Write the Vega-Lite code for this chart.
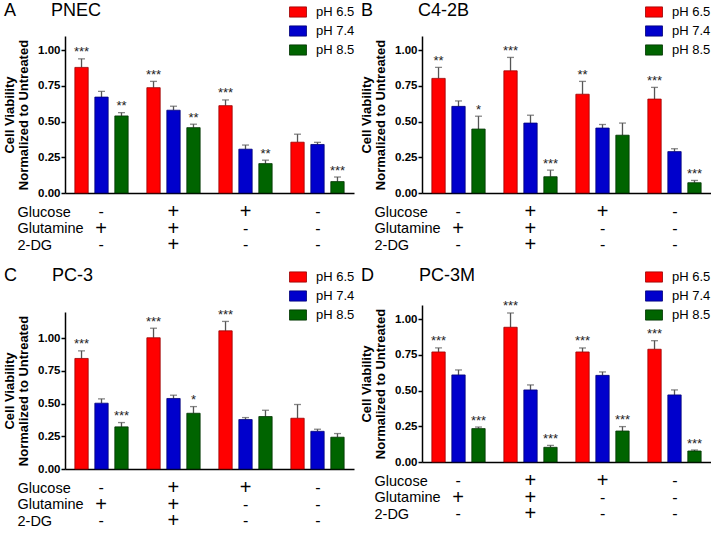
{
  "$schema": "https://vega.github.io/schema/vega-lite/v6.json",
  "padding": {"left": 3, "top": 2, "right": 0, "bottom": 0},
  "config": {
    "view": {"stroke": null},
    "font": "Liberation Sans",
    "legend": {"title": null, "symbolType": "M-1,-0.6L1,-0.6L1,0.6L-1,0.6Z", "symbolSize": 289, "symbolStrokeColor": "#333", "symbolStrokeWidth": 0.8, "symbolOpacity": 1, "labelFontSize": 13, "labelFont": "Liberation Sans", "labelColor": "black", "labelOffset": 9, "rowPadding": 3, "padding": 0},
    "title": {"anchor": "start", "frame": "group", "fontSize": 18, "fontWeight": "normal", "font": "Liberation Sans", "color": "black", "dx": -61, "dy": 21},
    "axisX": {"labels": false, "ticks": false, "title": null, "domainColor": "black", "domainWidth": 1.5, "grid": false}
  },
  "datasets": {
    "bars": [
      {"cell": "PNEC", "group": "g1", "ph": "pH 6.5", "value": 0.88, "err": 0.94, "stars": "***"},
      {"cell": "PNEC", "group": "g1", "ph": "pH 7.4", "value": 0.672, "err": 0.712, "stars": ""},
      {"cell": "PNEC", "group": "g1", "ph": "pH 8.5", "value": 0.54, "err": 0.563, "stars": "**"},
      {"cell": "PNEC", "group": "g2", "ph": "pH 6.5", "value": 0.738, "err": 0.782, "stars": "***"},
      {"cell": "PNEC", "group": "g2", "ph": "pH 7.4", "value": 0.58, "err": 0.608, "stars": ""},
      {"cell": "PNEC", "group": "g2", "ph": "pH 8.5", "value": 0.458, "err": 0.482, "stars": "**"},
      {"cell": "PNEC", "group": "g3", "ph": "pH 6.5", "value": 0.612, "err": 0.652, "stars": "***"},
      {"cell": "PNEC", "group": "g3", "ph": "pH 7.4", "value": 0.307, "err": 0.336, "stars": ""},
      {"cell": "PNEC", "group": "g3", "ph": "pH 8.5", "value": 0.206, "err": 0.23, "stars": "**"},
      {"cell": "PNEC", "group": "g4", "ph": "pH 6.5", "value": 0.356, "err": 0.412, "stars": ""},
      {"cell": "PNEC", "group": "g4", "ph": "pH 7.4", "value": 0.34, "err": 0.355, "stars": ""},
      {"cell": "PNEC", "group": "g4", "ph": "pH 8.5", "value": 0.08, "err": 0.112, "stars": "***"},
      {"cell": "C4-2B", "group": "g1", "ph": "pH 6.5", "value": 0.803, "err": 0.88, "stars": "**"},
      {"cell": "C4-2B", "group": "g1", "ph": "pH 7.4", "value": 0.607, "err": 0.645, "stars": ""},
      {"cell": "C4-2B", "group": "g1", "ph": "pH 8.5", "value": 0.448, "err": 0.538, "stars": "*"},
      {"cell": "C4-2B", "group": "g2", "ph": "pH 6.5", "value": 0.856, "err": 0.95, "stars": "***"},
      {"cell": "C4-2B", "group": "g2", "ph": "pH 7.4", "value": 0.49, "err": 0.545, "stars": ""},
      {"cell": "C4-2B", "group": "g2", "ph": "pH 8.5", "value": 0.114, "err": 0.16, "stars": "***"},
      {"cell": "C4-2B", "group": "g3", "ph": "pH 6.5", "value": 0.692, "err": 0.782, "stars": "**"},
      {"cell": "C4-2B", "group": "g3", "ph": "pH 7.4", "value": 0.455, "err": 0.48, "stars": ""},
      {"cell": "C4-2B", "group": "g3", "ph": "pH 8.5", "value": 0.405, "err": 0.49, "stars": ""},
      {"cell": "C4-2B", "group": "g4", "ph": "pH 6.5", "value": 0.658, "err": 0.74, "stars": "***"},
      {"cell": "C4-2B", "group": "g4", "ph": "pH 7.4", "value": 0.29, "err": 0.31, "stars": ""},
      {"cell": "C4-2B", "group": "g4", "ph": "pH 8.5", "value": 0.072, "err": 0.088, "stars": "***"},
      {"cell": "PC-3", "group": "g1", "ph": "pH 6.5", "value": 0.845, "err": 0.903, "stars": "***"},
      {"cell": "PC-3", "group": "g1", "ph": "pH 7.4", "value": 0.503, "err": 0.536, "stars": ""},
      {"cell": "PC-3", "group": "g1", "ph": "pH 8.5", "value": 0.322, "err": 0.355, "stars": "***"},
      {"cell": "PC-3", "group": "g2", "ph": "pH 6.5", "value": 1.003, "err": 1.076, "stars": "***"},
      {"cell": "PC-3", "group": "g2", "ph": "pH 7.4", "value": 0.539, "err": 0.564, "stars": ""},
      {"cell": "PC-3", "group": "g2", "ph": "pH 8.5", "value": 0.426, "err": 0.477, "stars": "*"},
      {"cell": "PC-3", "group": "g3", "ph": "pH 6.5", "value": 1.056, "err": 1.128, "stars": "***"},
      {"cell": "PC-3", "group": "g3", "ph": "pH 7.4", "value": 0.378, "err": 0.393, "stars": ""},
      {"cell": "PC-3", "group": "g3", "ph": "pH 8.5", "value": 0.401, "err": 0.449, "stars": ""},
      {"cell": "PC-3", "group": "g4", "ph": "pH 6.5", "value": 0.388, "err": 0.493, "stars": ""},
      {"cell": "PC-3", "group": "g4", "ph": "pH 7.4", "value": 0.288, "err": 0.304, "stars": ""},
      {"cell": "PC-3", "group": "g4", "ph": "pH 8.5", "value": 0.243, "err": 0.271, "stars": ""},
      {"cell": "PC-3M", "group": "g1", "ph": "pH 6.5", "value": 0.771, "err": 0.799, "stars": "***"},
      {"cell": "PC-3M", "group": "g1", "ph": "pH 7.4", "value": 0.61, "err": 0.645, "stars": ""},
      {"cell": "PC-3M", "group": "g1", "ph": "pH 8.5", "value": 0.234, "err": 0.245, "stars": "***"},
      {"cell": "PC-3M", "group": "g2", "ph": "pH 6.5", "value": 0.944, "err": 1.044, "stars": "***"},
      {"cell": "PC-3M", "group": "g2", "ph": "pH 7.4", "value": 0.505, "err": 0.54, "stars": ""},
      {"cell": "PC-3M", "group": "g2", "ph": "pH 8.5", "value": 0.103, "err": 0.117, "stars": "***"},
      {"cell": "PC-3M", "group": "g3", "ph": "pH 6.5", "value": 0.771, "err": 0.799, "stars": "***"},
      {"cell": "PC-3M", "group": "g3", "ph": "pH 7.4", "value": 0.607, "err": 0.631, "stars": ""},
      {"cell": "PC-3M", "group": "g3", "ph": "pH 8.5", "value": 0.217, "err": 0.248, "stars": "***"},
      {"cell": "PC-3M", "group": "g4", "ph": "pH 6.5", "value": 0.79, "err": 0.85, "stars": "***"},
      {"cell": "PC-3M", "group": "g4", "ph": "pH 7.4", "value": 0.47, "err": 0.505, "stars": ""},
      {"cell": "PC-3M", "group": "g4", "ph": "pH 8.5", "value": 0.077, "err": 0.084, "stars": "***"}
    ],
    "table": [
      {"group": "g1", "row": "Glucose", "sign": "-"},
      {"group": "g1", "row": "Glutamine", "sign": "+"},
      {"group": "g1", "row": "2-DG", "sign": "-"},
      {"group": "g2", "row": "Glucose", "sign": "+"},
      {"group": "g2", "row": "Glutamine", "sign": "+"},
      {"group": "g2", "row": "2-DG", "sign": "+"},
      {"group": "g3", "row": "Glucose", "sign": "+"},
      {"group": "g3", "row": "Glutamine", "sign": "-"},
      {"group": "g3", "row": "2-DG", "sign": "-"},
      {"group": "g4", "row": "Glucose", "sign": "-"},
      {"group": "g4", "row": "Glutamine", "sign": "-"},
      {"group": "g4", "row": "2-DG", "sign": "-"}
    ]
  },
  "resolve": {"scale": {"color": "independent", "stroke": "independent"}, "legend": {"color": "independent", "stroke": "independent"}},
  "spacing": 5,
  "hconcat": [
    {
      "resolve": {"scale": {"color": "independent", "stroke": "independent"}, "legend": {"color": "independent", "stroke": "independent"}},
      "spacing": 11,
      "vconcat": [
        {
          "resolve": {"scale": {"color": "independent", "stroke": "independent"}, "legend": {"color": "independent", "stroke": "independent"}},
          "spacing": 3,
          "vconcat": [
            {
              "width": 289, "height": 157,
              "data": {"name": "bars"},
              "transform": [{"filter": "datum.cell == 'PNEC'"}],
              "title": {"text": "A\u00a0\u00a0\u00a0\u00a0\u00a0\u00a0\u00a0PNEC"},
              "encoding": {
                "x": {"field": "group", "type": "nominal", "scale": {"paddingInner": 0.26, "paddingOuter": 0.137}},
                "xOffset": {"field": "ph", "type": "nominal", "scale": {"paddingInner": 0.333, "paddingOuter": 0}}
              },
              "layer": [
                {"mark": {"type": "rule", "color": "#555", "strokeWidth": 1.3}, "encoding": {"y": {"field": "value", "type": "quantitative", "scale": {"domain": [0, 1.1]}, "axis": {"values": [0, 0.25, 0.5, 0.75, 1], "tickCount": 12, "format": ".2f", "labelFont": "Liberation Sans", "labelFontWeight": "bold", "labelFontSize": 11.5, "labelColor": "black", "labelPadding": 1, "tickColor": "black", "tickSize": 4, "tickWidth": 1.5, "domainColor": "black", "domainWidth": 1.5, "grid": false, "titleFont": "Liberation Sans", "titleFontSize": 13, "titleFontWeight": "bold", "titleColor": "black", "titlePadding": 7, "titleLineHeight": 14, "title": ["Cell Viability", "Normalized to Untreated"]}}, "y2": {"field": "err"}}},
                {"mark": {"type": "tick", "color": "#555", "thickness": 1.3, "size": 7, "orient": "horizontal"}, "encoding": {"y": {"field": "err", "type": "quantitative"}}},
                {"mark": {"type": "bar", "strokeWidth": 0.8}, "encoding": {"y": {"field": "value", "type": "quantitative"}, "color": {"field": "ph", "type": "nominal", "scale": {"domain": ["pH 6.5", "pH 7.4", "pH 8.5"], "range": ["#ff0000", "#0000cc", "#006400"]}, "legend": {"orient": "none", "legendX": 224, "legendY": -33}}, "stroke": {"field": "ph", "type": "nominal", "scale": {"domain": ["pH 6.5", "pH 7.4", "pH 8.5"], "range": ["#990000", "#000077", "#003300"]}, "legend": null}}},
                {"transform": [{"filter": "datum.stars != ''"}], "mark": {"type": "text", "fontSize": 13, "dy": -2.5, "baseline": "alphabetic", "color": "#222"}, "encoding": {"y": {"field": "err", "type": "quantitative"}, "text": {"field": "stars"}}}
              ]
            },
            {
              "width": 289, "height": 49.5,
              "data": {"name": "table"},
              "encoding": {
                "x": {"field": "group", "type": "nominal", "scale": {"paddingInner": 0.26, "paddingOuter": 0.137}, "axis": null},
                "y": {"field": "row", "type": "nominal", "sort": ["Glucose", "Glutamine", "2-DG"], "axis": {"title": null, "domain": false, "ticks": false, "grid": false, "labelAlign": "left", "labelBaseline": "middle", "labelPadding": 48, "labelFontSize": 14.5, "labelFont": "Liberation Sans", "labelFontWeight": "normal", "labelColor": "black"}},
                "text": {"field": "sign"}
              },
              "layer": [
                {"transform": [{"filter": "datum.sign == '+'"}], "mark": {"type": "text", "fontSize": 20, "baseline": "middle", "font": "Liberation Sans", "color": "black"}},
                {"transform": [{"filter": "datum.sign == '-'"}], "mark": {"type": "text", "fontSize": 16, "baseline": "middle", "font": "Liberation Sans", "color": "black"}}
              ]
            }
          ]
        },
        {
          "resolve": {"scale": {"color": "independent", "stroke": "independent"}, "legend": {"color": "independent", "stroke": "independent"}},
          "spacing": 3,
          "vconcat": [
            {
              "width": 289, "height": 157,
              "data": {"name": "bars"},
              "transform": [{"filter": "datum.cell == 'PC-3'"}],
              "title": {"text": "C\u00a0\u00a0\u00a0\u00a0\u00a0\u00a0\u00a0PC-3"},
              "encoding": {
                "x": {"field": "group", "type": "nominal", "scale": {"paddingInner": 0.26, "paddingOuter": 0.137}},
                "xOffset": {"field": "ph", "type": "nominal", "scale": {"paddingInner": 0.333, "paddingOuter": 0}}
              },
              "layer": [
                {"mark": {"type": "rule", "color": "#555", "strokeWidth": 1.3}, "encoding": {"y": {"field": "value", "type": "quantitative", "scale": {"domain": [0, 1.2]}, "axis": {"values": [0, 0.25, 0.5, 0.75, 1], "tickCount": 12, "format": ".2f", "labelFont": "Liberation Sans", "labelFontWeight": "bold", "labelFontSize": 11.5, "labelColor": "black", "labelPadding": 1, "tickColor": "black", "tickSize": 4, "tickWidth": 1.5, "domainColor": "black", "domainWidth": 1.5, "grid": false, "titleFont": "Liberation Sans", "titleFontSize": 13, "titleFontWeight": "bold", "titleColor": "black", "titlePadding": 7, "titleLineHeight": 14, "title": ["Cell Viability", "Normalized to Untreated"]}}, "y2": {"field": "err"}}},
                {"mark": {"type": "tick", "color": "#555", "thickness": 1.3, "size": 7, "orient": "horizontal"}, "encoding": {"y": {"field": "err", "type": "quantitative"}}},
                {"mark": {"type": "bar", "strokeWidth": 0.8}, "encoding": {"y": {"field": "value", "type": "quantitative"}, "color": {"field": "ph", "type": "nominal", "scale": {"domain": ["pH 6.5", "pH 7.4", "pH 8.5"], "range": ["#ff0000", "#0000cc", "#006400"]}, "legend": {"orient": "none", "legendX": 224, "legendY": -44}}, "stroke": {"field": "ph", "type": "nominal", "scale": {"domain": ["pH 6.5", "pH 7.4", "pH 8.5"], "range": ["#990000", "#000077", "#003300"]}, "legend": null}}},
                {"transform": [{"filter": "datum.stars != ''"}], "mark": {"type": "text", "fontSize": 13, "dy": -2.5, "baseline": "alphabetic", "color": "#222"}, "encoding": {"y": {"field": "err", "type": "quantitative"}, "text": {"field": "stars"}}}
              ]
            },
            {
              "width": 289, "height": 49.5,
              "data": {"name": "table"},
              "encoding": {
                "x": {"field": "group", "type": "nominal", "scale": {"paddingInner": 0.26, "paddingOuter": 0.137}, "axis": null},
                "y": {"field": "row", "type": "nominal", "sort": ["Glucose", "Glutamine", "2-DG"], "axis": {"title": null, "domain": false, "ticks": false, "grid": false, "labelAlign": "left", "labelBaseline": "middle", "labelPadding": 48, "labelFontSize": 14.5, "labelFont": "Liberation Sans", "labelFontWeight": "normal", "labelColor": "black"}},
                "text": {"field": "sign"}
              },
              "layer": [
                {"transform": [{"filter": "datum.sign == '+'"}], "mark": {"type": "text", "fontSize": 20, "baseline": "middle", "font": "Liberation Sans", "color": "black"}},
                {"transform": [{"filter": "datum.sign == '-'"}], "mark": {"type": "text", "fontSize": 16, "baseline": "middle", "font": "Liberation Sans", "color": "black"}}
              ]
            }
          ]
        }
      ]
    },
    {
      "resolve": {"scale": {"color": "independent", "stroke": "independent"}, "legend": {"color": "independent", "stroke": "independent"}},
      "spacing": 11,
      "vconcat": [
        {
          "resolve": {"scale": {"color": "independent", "stroke": "independent"}, "legend": {"color": "independent", "stroke": "independent"}},
          "spacing": 3,
          "vconcat": [
            {
              "width": 289, "height": 157,
              "data": {"name": "bars"},
              "transform": [{"filter": "datum.cell == 'C4-2B'"}],
              "title": {"text": "B\u00a0\u00a0\u00a0\u00a0\u00a0\u00a0\u00a0\u00a0\u00a0C4-2B"},
              "encoding": {
                "x": {"field": "group", "type": "nominal", "scale": {"paddingInner": 0.26, "paddingOuter": 0.137}},
                "xOffset": {"field": "ph", "type": "nominal", "scale": {"paddingInner": 0.333, "paddingOuter": 0}}
              },
              "layer": [
                {"mark": {"type": "rule", "color": "#555", "strokeWidth": 1.3}, "encoding": {"y": {"field": "value", "type": "quantitative", "scale": {"domain": [0, 1.1]}, "axis": {"values": [0, 0.25, 0.5, 0.75, 1], "tickCount": 12, "format": ".2f", "labelFont": "Liberation Sans", "labelFontWeight": "bold", "labelFontSize": 11.5, "labelColor": "black", "labelPadding": 1, "tickColor": "black", "tickSize": 4, "tickWidth": 1.5, "domainColor": "black", "domainWidth": 1.5, "grid": false, "titleFont": "Liberation Sans", "titleFontSize": 13, "titleFontWeight": "bold", "titleColor": "black", "titlePadding": 7, "titleLineHeight": 14, "title": ["Cell Viability", "Normalized to Untreated"]}}, "y2": {"field": "err"}}},
                {"mark": {"type": "tick", "color": "#555", "thickness": 1.3, "size": 7, "orient": "horizontal"}, "encoding": {"y": {"field": "err", "type": "quantitative"}}},
                {"mark": {"type": "bar", "strokeWidth": 0.8}, "encoding": {"y": {"field": "value", "type": "quantitative"}, "color": {"field": "ph", "type": "nominal", "scale": {"domain": ["pH 6.5", "pH 7.4", "pH 8.5"], "range": ["#ff0000", "#0000cc", "#006400"]}, "legend": {"orient": "none", "legendX": 223, "legendY": -33}}, "stroke": {"field": "ph", "type": "nominal", "scale": {"domain": ["pH 6.5", "pH 7.4", "pH 8.5"], "range": ["#990000", "#000077", "#003300"]}, "legend": null}}},
                {"transform": [{"filter": "datum.stars != ''"}], "mark": {"type": "text", "fontSize": 13, "dy": -2.5, "baseline": "alphabetic", "color": "#222"}, "encoding": {"y": {"field": "err", "type": "quantitative"}, "text": {"field": "stars"}}}
              ]
            },
            {
              "width": 289, "height": 49.5,
              "data": {"name": "table"},
              "encoding": {
                "x": {"field": "group", "type": "nominal", "scale": {"paddingInner": 0.26, "paddingOuter": 0.137}, "axis": null},
                "y": {"field": "row", "type": "nominal", "sort": ["Glucose", "Glutamine", "2-DG"], "axis": {"title": null, "domain": false, "ticks": false, "grid": false, "labelAlign": "left", "labelBaseline": "middle", "labelPadding": 48, "labelFontSize": 14.5, "labelFont": "Liberation Sans", "labelFontWeight": "normal", "labelColor": "black"}},
                "text": {"field": "sign"}
              },
              "layer": [
                {"transform": [{"filter": "datum.sign == '+'"}], "mark": {"type": "text", "fontSize": 20, "baseline": "middle", "font": "Liberation Sans", "color": "black"}},
                {"transform": [{"filter": "datum.sign == '-'"}], "mark": {"type": "text", "fontSize": 16, "baseline": "middle", "font": "Liberation Sans", "color": "black"}}
              ]
            }
          ]
        },
        {
          "resolve": {"scale": {"color": "independent", "stroke": "independent"}, "legend": {"color": "independent", "stroke": "independent"}},
          "spacing": 3,
          "vconcat": [
            {
              "width": 289, "height": 157,
              "data": {"name": "bars"},
              "transform": [{"filter": "datum.cell == 'PC-3M'"}],
              "title": {"text": "D\u00a0\u00a0\u00a0\u00a0\u00a0\u00a0\u00a0\u00a0\u00a0PC-3M"},
              "encoding": {
                "x": {"field": "group", "type": "nominal", "scale": {"paddingInner": 0.26, "paddingOuter": 0.137}},
                "xOffset": {"field": "ph", "type": "nominal", "scale": {"paddingInner": 0.333, "paddingOuter": 0}}
              },
              "layer": [
                {"mark": {"type": "rule", "color": "#555", "strokeWidth": 1.3}, "encoding": {"y": {"field": "value", "type": "quantitative", "scale": {"domain": [0, 1.1]}, "axis": {"values": [0, 0.25, 0.5, 0.75, 1], "tickCount": 12, "format": ".2f", "labelFont": "Liberation Sans", "labelFontWeight": "bold", "labelFontSize": 11.5, "labelColor": "black", "labelPadding": 1, "tickColor": "black", "tickSize": 4, "tickWidth": 1.5, "domainColor": "black", "domainWidth": 1.5, "grid": false, "titleFont": "Liberation Sans", "titleFontSize": 13, "titleFontWeight": "bold", "titleColor": "black", "titlePadding": 7, "titleLineHeight": 14, "title": ["Cell Viability", "Normalized to Untreated"]}}, "y2": {"field": "err"}}},
                {"mark": {"type": "tick", "color": "#555", "thickness": 1.3, "size": 7, "orient": "horizontal"}, "encoding": {"y": {"field": "err", "type": "quantitative"}}},
                {"mark": {"type": "bar", "strokeWidth": 0.8}, "encoding": {"y": {"field": "value", "type": "quantitative"}, "color": {"field": "ph", "type": "nominal", "scale": {"domain": ["pH 6.5", "pH 7.4", "pH 8.5"], "range": ["#ff0000", "#0000cc", "#006400"]}, "legend": {"orient": "none", "legendX": 223, "legendY": -37}}, "stroke": {"field": "ph", "type": "nominal", "scale": {"domain": ["pH 6.5", "pH 7.4", "pH 8.5"], "range": ["#990000", "#000077", "#003300"]}, "legend": null}}},
                {"transform": [{"filter": "datum.stars != ''"}], "mark": {"type": "text", "fontSize": 13, "dy": -2.5, "baseline": "alphabetic", "color": "#222"}, "encoding": {"y": {"field": "err", "type": "quantitative"}, "text": {"field": "stars"}}}
              ]
            },
            {
              "width": 289, "height": 49.5,
              "data": {"name": "table"},
              "encoding": {
                "x": {"field": "group", "type": "nominal", "scale": {"paddingInner": 0.26, "paddingOuter": 0.137}, "axis": null},
                "y": {"field": "row", "type": "nominal", "sort": ["Glucose", "Glutamine", "2-DG"], "axis": {"title": null, "domain": false, "ticks": false, "grid": false, "labelAlign": "left", "labelBaseline": "middle", "labelPadding": 48, "labelFontSize": 14.5, "labelFont": "Liberation Sans", "labelFontWeight": "normal", "labelColor": "black"}},
                "text": {"field": "sign"}
              },
              "layer": [
                {"transform": [{"filter": "datum.sign == '+'"}], "mark": {"type": "text", "fontSize": 20, "baseline": "middle", "font": "Liberation Sans", "color": "black"}},
                {"transform": [{"filter": "datum.sign == '-'"}], "mark": {"type": "text", "fontSize": 16, "baseline": "middle", "font": "Liberation Sans", "color": "black"}}
              ]
            }
          ]
        }
      ]
    }
  ]
}
